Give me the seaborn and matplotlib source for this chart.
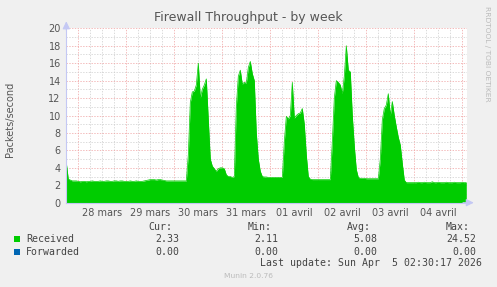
import numpy as np
import pandas as pd
import matplotlib
matplotlib.use("Agg")
import matplotlib.pyplot as plt
import seaborn as sns
from matplotlib.patches import Rectangle
from matplotlib.ticker import MultipleLocator

# ---------------- data ----------------
title = "Firewall Throughput - by week"
y_label = "Packets/second"
day_labels = ["28 mars", "29 mars", "30 mars", "31 mars",
              "01 avril", "02 avril", "03 avril", "04 avril"]
start_hour = -6  # hours relative to 28 mars 00:00, one sample per hour

received = [
    # 27 mars 18:00-23:00
    4.6, 2.7, 2.6, 2.5, 2.5, 2.5,
    # 28 mars
    2.45, 2.4, 2.45, 2.45, 2.4, 2.45, 2.45, 2.5, 2.45, 2.45, 2.45, 2.5,
    2.45, 2.45, 2.5, 2.5, 2.45, 2.45, 2.5, 2.5, 2.45, 2.5, 2.5, 2.45,
    # 29 mars
    2.45, 2.45, 2.5, 2.45, 2.45, 2.5, 2.45, 2.45, 2.45, 2.5, 2.55, 2.6,
    2.65, 2.65, 2.65, 2.6, 2.65, 2.65, 2.6, 2.55, 2.5, 2.5, 2.5, 2.5,
    # 30 mars
    2.5, 2.5, 2.5, 2.5, 2.5, 2.5, 2.5, 5.5, 11.5, 12.7, 12.8, 13.5,
    16.0, 12.0, 13.0, 13.5, 14.2, 9.5, 5.0, 4.2, 3.9, 3.6, 3.9, 4.0,
    # 31 mars
    4.0, 3.9, 3.2, 3.0, 3.0, 2.9, 3.0, 11.0, 14.5, 15.2, 13.6, 13.8,
    13.7, 15.5, 16.2, 14.8, 14.0, 8.0, 5.0, 3.6, 3.0, 2.95, 2.95, 2.9,
    # 01 avril
    2.9, 2.9, 2.9, 2.9, 2.9, 2.9, 2.9, 7.0, 9.9, 9.6, 10.0, 13.8,
    9.7, 10.0, 10.2, 10.3, 10.8, 9.0, 5.5, 3.0, 2.7, 2.65, 2.65, 2.65,
    # 02 avril
    2.65, 2.65, 2.65, 2.65, 2.65, 2.65, 2.65, 7.0, 12.0, 14.0, 13.8, 13.5,
    12.5, 14.5, 18.0, 15.2, 15.0, 10.0, 6.5, 3.8, 2.9, 2.8, 2.8, 2.8,
    # 03 avril
    2.75, 2.75, 2.75, 2.75, 2.75, 2.75, 2.75, 5.0, 9.5, 10.8, 11.2, 12.5,
    10.0, 11.6, 10.0, 8.7, 7.5, 6.6, 4.5, 2.6, 2.3, 2.3, 2.3, 2.3,
    # 04 avril
    2.3, 2.3, 2.35, 2.3, 2.3, 2.35, 2.3, 2.3, 2.3, 2.4, 2.3, 2.3,
    2.35, 2.3, 2.3, 2.3, 2.35, 2.3, 2.3, 2.3, 2.35, 2.3, 2.3, 2.3,
    # 05 avril 00:00-02:00
    2.35, 2.3, 2.33,
]

series_names = ["Received", "Forwarded"]
series_colors = ["#00CC00", "#0066B3"]
cur_vals = [2.33, 0.00]
min_vals = [2.11, 0.00]
avg_vals = [5.08, 0.00]
max_vals = [24.52, 0.00]
last_update = "Last update: Sun Apr  5 02:30:17 2026"
footer = "Munin 2.0.76"
watermark = "RRDTOOL / TOBI OETIKER"

# ---------------- figure ----------------
sns.set_style("white")
plt.rcParams["font.family"] = ["DejaVu Sans"]

W, H = 497, 287
BG = "#F0F0F0"
TXT = "#555555"
AXC = "#C4C8F4"
fig = plt.figure(figsize=(W / 100, H / 100), dpi=100, facecolor=BG)

x0, x1, ytop, ybot = 66.3, 467.0, 28.3, 202.7
ax = fig.add_axes([x0 / W, (H - ybot) / H, (x1 - x0) / W, (ybot - ytop) / H])
ax.set_facecolor("white")

df = pd.DataFrame({
    "hour": np.arange(start_hour, start_hour + len(received)),
    "received": received,
})

ax.fill_between(df["hour"], df["received"], 0, color=series_colors[0], lw=0, zorder=2)
sns.lineplot(data=df, x="hour", y="received", color=series_colors[0],
             lw=0.5, ax=ax, zorder=2)

ax.set_xlim(-6, 194.35)
ax.set_ylim(0, 20)
ax.set_xlabel("")
ax.set_ylabel("")

# grid
ax.xaxis.set_major_locator(MultipleLocator(24))
ax.xaxis.set_minor_locator(MultipleLocator(6))
ax.yaxis.set_major_locator(MultipleLocator(2))
ax.yaxis.set_minor_locator(MultipleLocator(1))
ax.set_axisbelow(True)
ax.grid(which="minor", color="#CCCCCC", ls=(0, (2, 2)), lw=0.5)
ax.grid(which="major", color="#EFA0A0", ls=(0, (2, 2)), lw=0.5)

ax.tick_params(axis="x", which="both", labelbottom=False)
ax.tick_params(axis="x", which="major", color="#E07070", length=2, width=0.7)
ax.tick_params(axis="x", which="minor", color="#BBBBBB", length=1.5, width=0.6)
ax.tick_params(axis="y", which="major", color="#AAAAAA", length=2.5, width=0.6,
               labelcolor=TXT, labelsize=7, pad=1.5)
ax.tick_params(axis="y", which="minor", color="#CCCCCC", length=1.5, width=0.6)

for s in ["top", "right"]:
    ax.spines[s].set_visible(False)
for s in ["left", "bottom"]:
    ax.spines[s].set_color(AXC)
    ax.spines[s].set_linewidth(0.8)

arrow_kw = dict(arrowstyle="-|>,head_width=0.22,head_length=0.45", color=AXC,
                lw=0.8, shrinkA=0, shrinkB=0)
ax.annotate("", xy=(0, 1.04), xytext=(0, 0.99), xycoords="axes fraction",
            arrowprops=arrow_kw, annotation_clip=False)
ax.annotate("", xy=(1.017, 0), xytext=(0.99, 0), xycoords="axes fraction",
            arrowprops=arrow_kw, annotation_clip=False)

# day labels centred at noon
for i, lab in enumerate(day_labels):
    ax.text(12 + 24 * i, -10 / (ybot - ytop), lab, transform=ax.get_xaxis_transform(),
            ha="center", va="center", fontsize=7, color=TXT)

# titles
fig.text(248.5 / W, 1 - 18 / H, title, ha="center", va="center", fontsize=9, color=TXT)
fig.text(10 / W, 1 - 119.5 / H, y_label, rotation=90, ha="center", va="center",
         fontsize=7, color=TXT)
fig.text(487.5 / W, 1 - 53.5 / H, watermark, rotation=270, ha="center", va="center",
         fontsize=5.4, color="#BBBBBB")

# legend block
MONO = "DejaVu Sans Mono"
LT = "#444444"
fs = 7.1
hdr_x = [172.3, 271.7, 371.0, 470.0]
val_x = [179.0, 278.3, 377.3, 476.7]
for hx, h in zip(hdr_x, ["Cur:", "Min:", "Avg:", "Max:"]):
    fig.text(hx / W, 1 - 227.3 / H, h, ha="right", va="center", family=MONO,
             fontsize=fs, color=LT)

row_y = [239.3, 251.7]
for i, name in enumerate(series_names):
    yy = row_y[i]
    fig.add_artist(Rectangle((14 / W, 1 - (yy + 2.9) / H), 6 / W, 6 / H,
                             transform=fig.transFigure, color=series_colors[i], lw=0))
    fig.text(26.3 / W, 1 - yy / H, name, ha="left", va="center", family=MONO,
             fontsize=fs, color=LT)
    for vx, arr in zip(val_x, [cur_vals, min_vals, avg_vals, max_vals]):
        fig.text(vx / W, 1 - yy / H, f"{arr[i]:.2f}", ha="right", va="center",
                 family=MONO, fontsize=fs, color=LT)

fig.text(482.3 / W, 1 - 263.3 / H, last_update, ha="right", va="center", family=MONO,
         fontsize=fs, color=LT)
fig.text(248 / W, 1 - 276.3 / H, footer, ha="center", va="center", fontsize=5.4,
         color="#BBBBBB")

fig.savefig("out.png", dpi=100, facecolor=BG)
